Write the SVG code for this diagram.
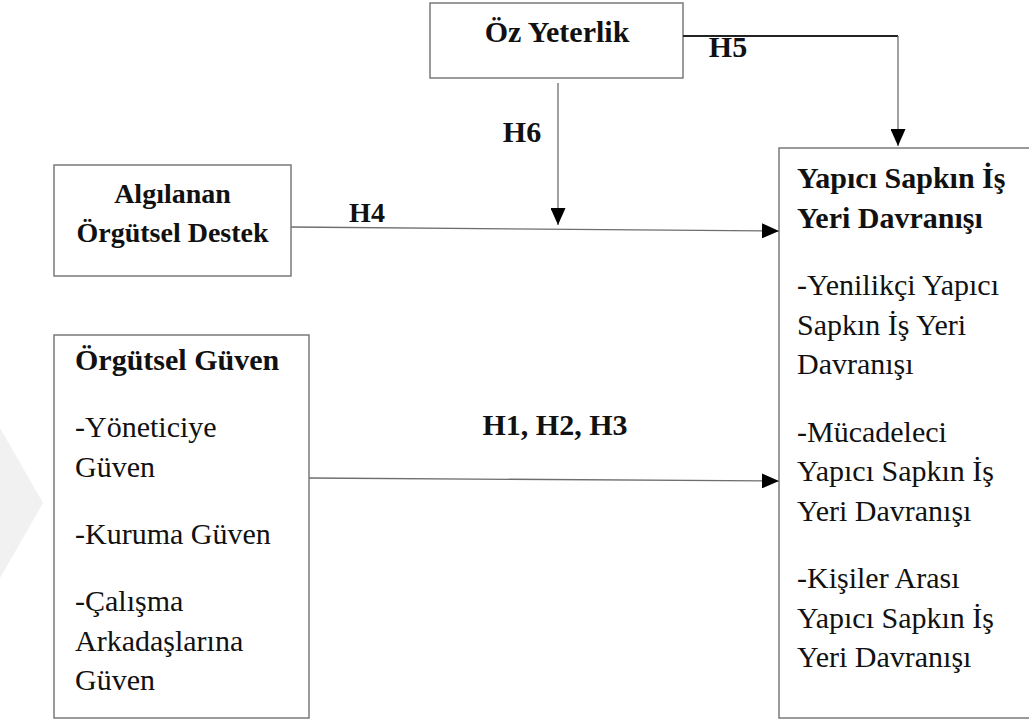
<svg xmlns="http://www.w3.org/2000/svg" width="1029" height="722" viewBox="0 0 1029 722">
<style>
.box{fill:#fff;stroke:#7a7a7a;stroke-width:1.5}
.b{font-family:"Liberation Serif","Times New Roman",serif;font-weight:bold;font-size:30px;fill:#111}
.r{font-family:"Liberation Serif","Times New Roman",serif;font-size:30px;fill:#111}
.c{text-anchor:middle}
.ln{fill:none;stroke:#6e6e6e;stroke-width:1.3}
.dk{fill:none;stroke:#222;stroke-width:2}
</style>
<defs>
<marker id="ah" markerUnits="userSpaceOnUse" markerWidth="17" markerHeight="15" refX="17" refY="7.5" orient="auto">
<path d="M0,0 L17,7.5 L0,15 Z" fill="#000"/>
</marker>
</defs>
<rect width="1029" height="722" fill="#fff"/>
<polygon points="0,428 43,503 0,578" fill="#f1f1f1"/>
<g id="node-oz-yeterlik">
<rect class="box" x="430" y="3" width="253" height="75"/>
<text class="b c" x="557" y="42">Öz Yeterlik</text>
</g>
<g id="node-algilanan">
<rect class="box" x="54" y="165" width="237" height="111"/>
<text class="b c" x="172.5" y="203" style="font-size:28px">Algılanan</text>
<text class="b c" x="172.5" y="242" style="font-size:28px">Örgütsel Destek</text>
</g>
<g id="node-orgutsel-guven">
<rect class="box" x="54" y="335" width="255" height="383"/>
<text class="b" x="75" y="370">Örgütsel Güven</text>
<text class="r" x="75" y="437">-Yöneticiye</text>
<text class="r" x="75" y="477">Güven</text>
<text class="r" x="75" y="544">-Kuruma Güven</text>
<text class="r" x="75" y="611">-Çalışma</text>
<text class="r" x="75" y="651">Arkadaşlarına</text>
<text class="r" x="75" y="690">Güven</text>
</g>
<g id="node-yapici">
<rect class="box" x="779" y="148" width="270" height="570"/>
<text class="b" x="797" y="188">Yapıcı Sapkın İş</text>
<text class="b" x="797" y="227.5">Yeri Davranışı</text>
<text class="r" x="797" y="295">-Yenilikçi Yapıcı</text>
<text class="r" x="797" y="334.5">Sapkın İş Yeri</text>
<text class="r" x="797" y="374">Davranışı</text>
<text class="r" x="797" y="441.5">-Mücadeleci</text>
<text class="r" x="797" y="481">Yapıcı Sapkın İş</text>
<text class="r" x="797" y="520.5">Yeri Davranışı</text>
<text class="r" x="797" y="588">-Kişiler Arası</text>
<text class="r" x="797" y="627.5">Yapıcı Sapkın İş</text>
<text class="r" x="797" y="667">Yeri Davranışı</text>
</g>
<g id="connectors">
<path class="dk" d="M683,36 L898,36"/>
<path class="ln" d="M898,36 L898,146" marker-end="url(#ah)"/>
<path class="ln" d="M558,83 L558,225" marker-end="url(#ah)"/>
<path class="ln" d="M291,227 L779,231" marker-end="url(#ah)"/>
<path class="ln" d="M309,478 L779,481" marker-end="url(#ah)"/>
<text class="b c" x="728" y="57">H5</text>
<text class="b c" x="522" y="142">H6</text>
<text class="b c" x="367" y="222" style="font-size:28px">H4</text>
<text class="b c" x="555" y="435">H1, H2, H3</text>
</g>
</svg>
